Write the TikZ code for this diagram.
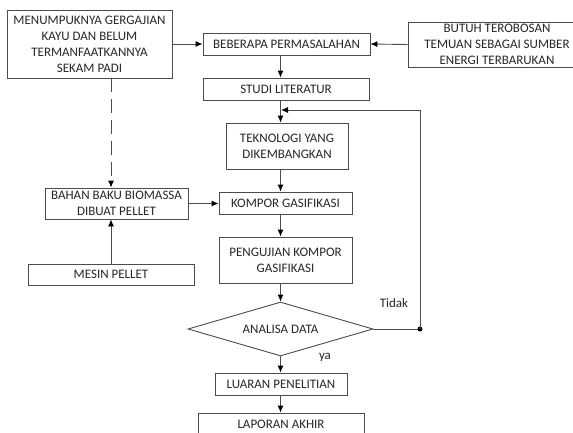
\documentclass[tikz,border=0pt]{standalone}
\usepackage{fontspec}
\setmainfont{Carlito}
\usetikzlibrary{arrows.meta,shapes.geometric}

\tikzset{
    box/.style={draw=black!70, line width=0.9pt, text=black!85, align=center,
        inner sep=0pt, font=\fontsize{13}{16}\selectfont},
    conn/.style={draw=black!70, line width=0.9pt, -{Latex[length=7pt,width=6pt,color=black]}},
    plain/.style={draw=black!70, line width=0.9pt}
}

\begin{document}
\begin{tikzpicture}[x=1pt,y=-1pt]
    \clip (0,0) rectangle (573,432);

    % Top row
    \node[box, minimum width=165, minimum height=68] (menumpuk) at (89.5,44)
        {MENUMPUKNYA GERGAJIAN\\KAYU DAN BELUM\\TERMANFAATKANNYA\\SEKAM PADI};
    \node[box, minimum width=167, minimum height=22] (masalah) at (286.5,44) {BEBERAPA PERMASALAHAN};
    \node[box, minimum width=178, minimum height=45] (butuh) at (497,44.5)
        {BUTUH TEROBOSAN\\TEMUAN SEBAGAI SUMBER\\ENERGI TERBARUKAN};

    % Main column
    \node[box, minimum width=166, minimum height=22] (studi) at (286,89) {STUDI LITERATUR};
    \node[box, minimum width=122, minimum height=46] (teknologi) at (287,146) {TEKNOLOGI YANG\\DIKEMBANGKAN};
    \node[box, minimum width=133, minimum height=22] (kompor) at (285.5,203) {KOMPOR GASIFIKASI};
    \node[box, minimum width=133, minimum height=46] (pengujian) at (285.5,260) {PENGUJIAN KOMPOR\\GASIFIKASI};
    \node[box, shape=diamond, aspect=3.4, minimum width=185, minimum height=54] (analisa) at (280.5,329) {ANALISA DATA};
    \node[box, minimum width=132, minimum height=22] (luaran) at (281,384) {LUARAN PENELITIAN};
    \node[box, minimum width=166, minimum height=22] (laporan) at (281,424) {LAPORAN AKHIR};

    % Left column
    \node[box, minimum width=143, minimum height=31] (bahan) at (116.5,203.5) {BAHAN BAKU BIOMASSA\\DIBUAT PELLET};
    \node[box, minimum width=166, minimum height=21] (mesin) at (111,274.5) {MESIN PELLET};

    % Labels
    \node[text=black!85, font=\fontsize{13}{16}\selectfont] (tidak) at (394,303) {Tidak};
    \node[text=black!85, font=\fontsize{13}{16}\selectfont] (ya) at (325,357) {ya};

    % Connectors
    \draw[conn] (menumpuk.east) -- (masalah.west);
    \draw[conn] (butuh.west) -- (masalah.east);
    \draw[conn] (masalah.south -| analisa.north) -- (studi.north -| analisa.north);
    \draw[conn] (studi.south -| analisa.north) -- (teknologi.north -| analisa.north);
    \draw[conn] (teknologi.south -| analisa.north) -- (kompor.north -| analisa.north);
    \draw[conn] (kompor.south -| analisa.north) -- (pengujian.north -| analisa.north);
    \draw[conn] (pengujian.south -| analisa.north) -- (analisa.north);
    \draw[conn] (analisa.south) -- (luaran.north -| analisa.south);
    \draw[conn] (luaran.south -| analisa.south) -- (laporan.north -| analisa.south);
    \draw[conn] (bahan.east) -- (kompor.west |- bahan.east);
    \draw[conn] (mesin.north) -- (bahan.south -| mesin.north);
    \draw[conn, dash pattern=on 14pt off 7pt] (menumpuk.south -| mesin.north) -- (bahan.north -| mesin.north);

    % Feedback loop
    \coordinate (loopdot) at (420,0 |- analisa.east);
    \coordinate (loopin) at (281,110);
    \draw[plain] (analisa.east) -- (loopdot);
    \fill[black] (loopdot) circle (2.5);
    \draw[conn] (loopdot) |- (loopin);
\end{tikzpicture}
\end{document}
